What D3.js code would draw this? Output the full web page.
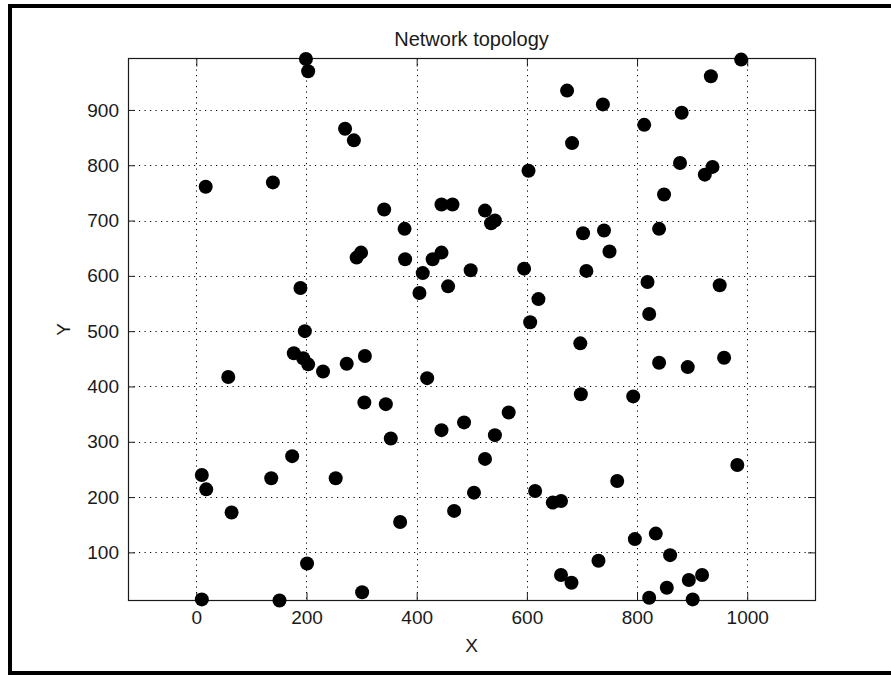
<!DOCTYPE html>
<html>
<head>
	<title>Network topology</title>
	<meta charset='utf-8'>
	<style>
		body {
			margin: 0;
			background: #fff;
		}

		text {
			font-family: 'Liberation Sans', Arial, sans-serif;
			font-size: 19px;
			fill: #1a1a1a;
		}

		.tick > line {
			stroke: #1a1a1a;
		}

		.grid line {
			stroke: #000;
			stroke-width: 1px;
			stroke-dasharray: 1.2, 4.3;
		}

		.node {
			fill: #000;
		}
	</style>
</head>
<body>

<script src='https://d3js.org/d3.v7.min.js'></script>
<script>
	'use strict';

	// Координаты узлов сети
	const nodeX = [
		199, 203, 270, 286, 17, 139, 291, 299, 189, 197,
		673, 682, 603, 341, 445, 465, 524, 542, 535, 378,
		702, 379, 429, 445, 411, 405, 457, 498, 595, 708,
		621, 606, 989, 934, 738, 881, 813, 878, 937, 923,
		849, 740, 840, 750, 819, 950, 822, 177, 194, 203,
		230, 273, 306, 58, 305, 174, 10, 18, 136, 253,
		64, 201, 10, 151, 301, 697, 419, 344, 698, 353,
		445, 486, 567, 542, 524, 504, 468, 370, 615, 647,
		662, 662, 681, 840, 892, 958, 793, 982, 764, 796,
		834, 860, 730, 918, 894, 854, 822, 901
	];
	const nodeY = [
		992, 970, 866, 845, 761, 769, 633, 642, 578, 500,
		935, 840, 790, 720, 729, 729, 718, 700, 695, 685,
		677, 630, 630, 642, 605, 569, 581, 610, 613, 609,
		558, 516, 991, 961, 910, 895, 873, 804, 797, 783,
		747, 682, 685, 644, 589, 583, 531, 460, 451, 440,
		427, 441, 455, 417, 371, 274, 240, 214, 234, 234,
		172, 80, 15, 13, 28, 478, 415, 368, 386, 306,
		321, 335, 353, 312, 269, 208, 175, 155, 211, 190,
		193, 59, 45, 443, 435, 452, 382, 258, 229, 124,
		134, 95, 85, 59, 50, 36, 18, 15
	];

	const xTicks = [0, 200, 400, 600, 800, 1000];
	const yTicks = [100, 200, 300, 400, 500, 600, 700, 800, 900];

	const width = 891;
	const height = 675;
	const plot = {left: 128, right: 815, top: 58.5, bottom: 600.5};

	const xScale = d3.scaleLinear().domain([-124, 1123]).range([plot.left, plot.right]);
	const yScale = d3.scaleLinear().domain([13, 993]).range([plot.bottom, plot.top]);

	const svg = d3.select('body').append('svg')
		.attr('width', width)
		.attr('height', height);

	// рамка вокруг всей картинки
	svg.append('rect')
		.attr('x', 10)
		.attr('y', 6)
		.attr('width', 900)
		.attr('height', 667)
		.attr('fill', 'none')
		.attr('stroke', '#000')
		.attr('stroke-width', 4);

	// сетка
	const grid = svg.append('g').attr('class', 'grid');
	grid.selectAll('line.gx')
		.data(xTicks)
		.enter().append('line')
		.attr('x1', d => Math.round(xScale(d)) + 0.5)
		.attr('x2', d => Math.round(xScale(d)) + 0.5)
		.attr('y1', plot.top)
		.attr('y2', plot.bottom);
	grid.selectAll('line.gy')
		.data(yTicks)
		.enter().append('line')
		.attr('x1', plot.left)
		.attr('x2', plot.right)
		.attr('y1', d => Math.round(yScale(d)) + 0.5)
		.attr('y2', d => Math.round(yScale(d)) + 0.5);

	// оси
	const noDomain = g => g.select('.domain').remove();
	const fmt = d3.format('d');

	svg.append('g')
		.attr('transform', 'translate(0,' + plot.bottom + ')')
		.call(d3.axisBottom(xScale).tickValues(xTicks).tickFormat(fmt).tickSizeInner(-8).tickSizeOuter(0).tickPadding(10))
		.call(noDomain)
		.selectAll('text').style('font-size', '19px').style('font-family', "'Liberation Sans', Arial, sans-serif");

	svg.append('g')
		.attr('transform', 'translate(0,' + plot.top + ')')
		.call(d3.axisTop(xScale).tickValues(xTicks).tickSizeInner(-8).tickSizeOuter(0).tickFormat(''))
		.call(noDomain);

	svg.append('g')
		.attr('transform', 'translate(' + plot.left + ',0)')
		.call(d3.axisLeft(yScale).tickValues(yTicks).tickFormat(fmt).tickSizeInner(-7).tickSizeOuter(0).tickPadding(9))
		.call(noDomain)
		.selectAll('text').style('font-size', '19px').style('font-family', "'Liberation Sans', Arial, sans-serif");

	svg.append('g')
		.attr('transform', 'translate(' + plot.right + ',0)')
		.call(d3.axisRight(yScale).tickValues(yTicks).tickSizeInner(-7).tickSizeOuter(0).tickFormat(''))
		.call(noDomain);

	// рамка осей
	svg.append('rect')
		.attr('x', plot.left + 0.5)
		.attr('y', plot.top)
		.attr('width', plot.right - plot.left)
		.attr('height', plot.bottom - plot.top)
		.attr('fill', 'none')
		.attr('stroke', '#1a1a1a')
		.attr('stroke-width', 1.2);

	// узлы
	svg.append('g')
		.selectAll('circle')
		.data(nodeX.map((x, i) => ({x: x, y: nodeY[i]})))
		.enter().append('circle')
		.attr('class', 'node')
		.attr('cx', d => xScale(d.x))
		.attr('cy', d => yScale(d.y))
		.attr('r', 7);

	// подписи
	svg.append('text')
		.attr('x', (plot.left + plot.right) / 2)
		.attr('y', 46)
		.attr('text-anchor', 'middle')
		.style('font-size', '20px')
		.text('Network topology');

	svg.append('text')
		.attr('x', (plot.left + plot.right) / 2)
		.attr('y', 652)
		.attr('text-anchor', 'middle')
		.text('X');

	svg.append('text')
		.attr('transform', 'translate(70,' + ((plot.top + plot.bottom) / 2) + ') rotate(-90)')
		.attr('text-anchor', 'middle')
		.text('Y');
</script>
</body>
</html>
